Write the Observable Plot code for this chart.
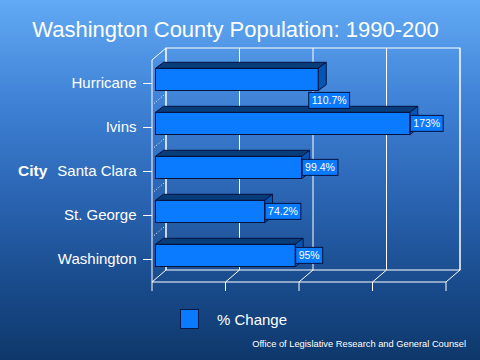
<!DOCTYPE html>
<html>
<head>
<meta charset="utf-8">
<script src="https://cdn.jsdelivr.net/npm/d3@7"></script>
<script src="https://cdn.jsdelivr.net/npm/@observablehq/plot@0.6"></script>
<style>
  html, body { margin: 0; padding: 0; }
  #wrap { position: relative; width: 480px; height: 360px; overflow: hidden;
    background: linear-gradient(to bottom, #62aaf4 0%, #3f82d6 28%, #2a64b2 55%, #184a8a 80%, #0e386b 100%);
    font-family: "Liberation Sans", Arial, sans-serif; color: white; }
  #wrap svg { position: absolute; left: 0; top: 0; }
  .abs { position: absolute; white-space: nowrap; }
</style>
</head>
<body>
<div id="wrap">
  <div class="abs" id="title" style="left:0;width:471px;text-align:center;top:19px;font-size:22px;line-height:22px;">Washington County Population: 1990-200</div>
  <div class="abs" id="ylabel" style="left:18px;top:163px;font-size:15.5px;line-height:15.5px;font-weight:bold;">City</div>
  <div class="abs" id="legend-swatch" style="left:180px;top:309px;width:17px;height:18px;background:#0a7bff;border:1px solid #06194a;"></div>
  <div class="abs" id="legend-text" style="left:217px;top:312px;font-size:15px;line-height:15px;">% Change</div>
  <div class="abs" id="caption" style="right:14px;top:339px;font-size:9.3px;line-height:10px;">Office of Legislative Research and General Counsel</div>
</div>
<script>
// ---- data ----
const cities = ["Hurricane", "Ivins", "Santa Clara", "St. George", "Washington"];
const pctChange = [110.7, 173, 99.4, 74.2, 95];
const pctLabels = ["110.7%", "173%", "99.4%", "74.2%", "95%"];
const xTicks = [0, 50, 100, 150, 200];

const data = cities.map((c, i) => ({city: c, value: pctChange[i], label: pctLabels[i]}));

// ---- styling / 3D offsets ----
const DX = 14, DY = -12;     // wall depth
const BX = 3.5, BY = -3.5;   // bar front offset
const BD = 8, BDY = -6;      // bar depth
const FRONT = "#0a7bff", TOP = "#083d7b", SIDE = "#0556b4", EDGE = "#04123f";

function frame3d(index, {x, y}, values, dim) {
  const g = d3.create("svg:g").attr("fill", "none").attr("stroke", "white").attr("stroke-width", 1);
  const x0 = x(0), x1 = x(xTicks[xTicks.length - 1]);
  const top = dim.marginTop, bot = dim.height - dim.marginBottom;
  const line = (a, b, c, d) => g.append("line").attr("x1", a).attr("y1", b).attr("x2", c).attr("y2", d);
  // back wall
  g.append("rect").attr("x", x0 + DX).attr("y", top + DY).attr("width", x1 - x0).attr("height", bot - top);
  for (const t of xTicks) {
    line(x(t) + DX, top + DY, x(t) + DX, bot + DY);        // back gridlines
    line(x(t), bot, x(t) + DX, bot + DY);                    // floor diagonals
    line(x(t), bot, x(t), bot + 9);                          // front ticks
  }
  line(x0, bot, x1, bot);             // floor front edge
  line(x0, top, x0, bot);             // left wall front edge
  line(x0, top, x0 + DX, top + DY);   // left wall top edge
  // dotted separators on left wall
  const step = y.step ? y.step() : y.bandwidth();
  cities.slice(0, -1).forEach(c => {
    const yb = y(c) + step;
    line(x0 + 2, yb - 1.5, x0 + DX - 2, yb + DY + 2).attr("stroke-dasharray", "1,2");
  });
  return g.node();
}

function bars3d(index, {x, y}) {
  const g = d3.create("svg:g").attr("stroke", EDGE).attr("stroke-width", 1).attr("stroke-linejoin", "round");
  const bw = y.bandwidth();
  for (const d of data) {
    const yc = y(d.city) + bw / 2 + BY;
    const t = yc - 11.2, b = yc + 11.2;
    const xa = x(0) + BX, xb = x(d.value) + BX;
    g.append("polygon").attr("fill", TOP)
      .attr("points", [[xa, t], [xa + BD, t + BDY], [xb + BD, t + BDY], [xb, t]].join(" "));
    g.append("polygon").attr("fill", SIDE)
      .attr("points", [[xb, t], [xb + BD, t + BDY], [xb + BD, b + BDY], [xb, b]].join(" "));
  }
  return g.node();
}

const plot = Plot.plot({
  width: 480,
  height: 300,
  marginLeft: 152,
  marginRight: 34,
  marginTop: 60,
  marginBottom: 18,
  style: {background: "transparent", color: "white", fontFamily: "Liberation Sans, Arial, sans-serif", fontSize: "15px"},
  x: {domain: [0, 200], axis: null},
  y: {domain: cities, padding: 0, tickSize: 9, tickPadding: 7, label: null},
  marks: [
    frame3d,
    bars3d,
    Plot.rect(data, {x1: 0, x2: "value", y: "city", insetTop: 11, insetBottom: 11,
      dx: BX, dy: BY, fill: FRONT, stroke: EDGE}),
    Plot.text(data.filter(d => d.city !== "Hurricane"), {x: "value", y: "city", text: "label",
      dx: BX + 3, dy: BY, textAnchor: "start", fill: "white", fontSize: 10.5}),
    Plot.text(data.filter(d => d.city === "Hurricane"), {x: "value", y: "city", text: "label",
      dx: BX - 7, dy: BY + 21, textAnchor: "start", fill: "white", fontSize: 10.5})
  ]
});

document.getElementById("wrap").appendChild(plot);

// label boxes behind value labels (same local coordinates as each text)
plot.querySelectorAll('g[aria-label="text"] text').forEach(t => {
  const bb = t.getBBox();
  const cy = bb.y + bb.height / 2;
  const r = document.createElementNS("http://www.w3.org/2000/svg", "rect");
  r.setAttribute("x", bb.x - 3);
  r.setAttribute("y", cy - 8);
  r.setAttribute("width", bb.width + 6);
  r.setAttribute("height", 16);
  r.setAttribute("fill", FRONT);
  r.setAttribute("stroke", EDGE);
  const tr = t.getAttribute("transform");
  if (tr) r.setAttribute("transform", tr);
  t.parentNode.insertBefore(r, t);
});
</script>
</body>
</html>
